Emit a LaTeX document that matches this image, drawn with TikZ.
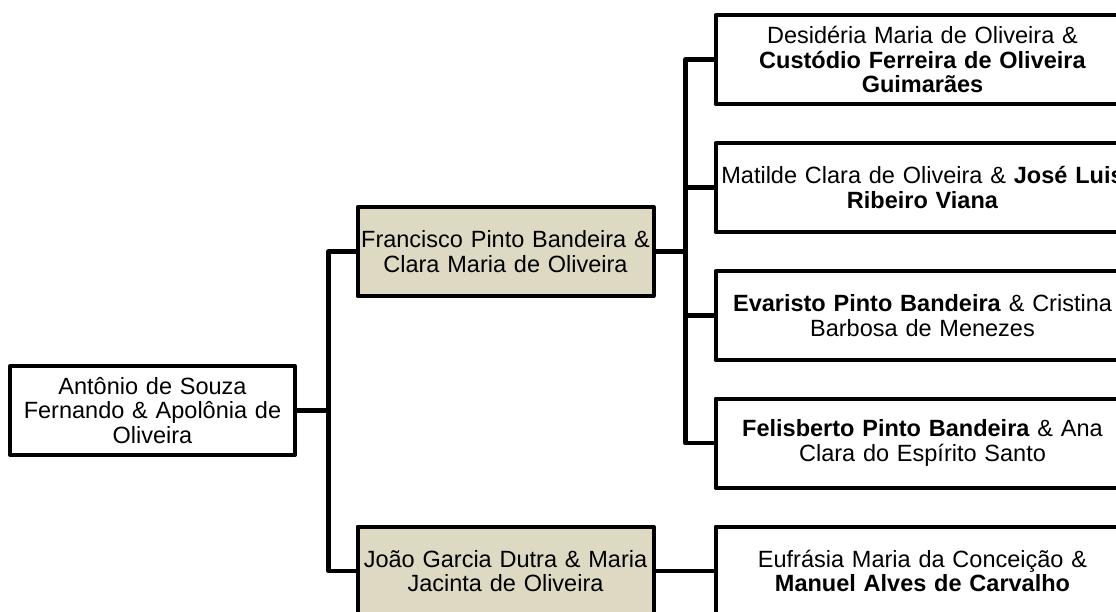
\documentclass[tikz,border=0pt]{standalone}
\usepackage{fontspec}
\setmainfont{Liberation Sans}
\usetikzlibrary{positioning}
\definecolor{famtan}{HTML}{DDD9C3}
\tikzset{
person/.style={ % Sets the properties for each box
draw, line width=4pt, line join=round,
align=center, inner xsep=2pt, inner ysep=0pt,
minimum height=89pt,
font=\fontsize{23.5}{24.8}\selectfont},
parent/.style={person, fill=famtan, text width=292pt}, % shaded middle generation
child/.style={person, fill=white, text width=410pt},
link/.style={ % Sets the properties for each connector
line width=4.5pt, line join=round}}

\begin{document}
\begin{tikzpicture}[x=1pt,y=-1pt]
\useasboundingbox (0,0) rectangle (1116,612);
\node[person, fill=white, text width=281pt] (root) at (152.5,410.5)
  {Antônio de Souza\\Fernando \& Apolônia de\\Oliveira};
\node[parent] (francisco) at (505.5,251.5) {Francisco Pinto Bandeira \&\\Clara Maria de Oliveira};
\node[parent] (joao) at (505.5,571) {João Garcia Dutra \& Maria\\Jacinta de Oliveira};
\node[child] (desideria) at (922.5,59.5)
  {Desidéria Maria de Oliveira \&\\\textbf{Custódio Ferreira de Oliveira}\\\textbf{Guimarães}};
\node[child] (matilde) at (922.5,187.5)
  {\mbox{Matilde Clara de Oliveira \& \textbf{José Luis}}\\\textbf{Ribeiro Viana}};
\node[child] (evaristo) at (922.5,315.5)
  {\textbf{Evaristo Pinto Bandeira} \& Cristina\\Barbosa de Menezes};
\node[child] (felisberto) at (922.5,443)
  {\textbf{Felisberto Pinto Bandeira} \& Ana\\Clara do Espírito Santo};
\node[child] (eufrasia) at (922.5,571)
  {Eufrásia Maria da Conceição \&\\\textbf{Manuel Alves de Carvalho}};
\coordinate (trunk) at (328.5,0);
\coordinate (bus) at (685.5,0);
% first generation
\draw[link] (root.east) -- (root.east -| trunk);
\draw[link] (francisco.west) -| (trunk |- joao.west) -- (joao.west);
% children of Francisco
\draw[link] (francisco.east) -- (francisco.east -| bus);
\draw[link] (desideria.west) -| (bus |- felisberto.west) -- (felisberto.west);
\draw[link] (matilde.west) -- (matilde.west -| bus);
\draw[link] (evaristo.west) -- (evaristo.west -| bus);
% child of João
\draw[link] (joao.east) -- (eufrasia.west);
\end{tikzpicture}
\end{document}
